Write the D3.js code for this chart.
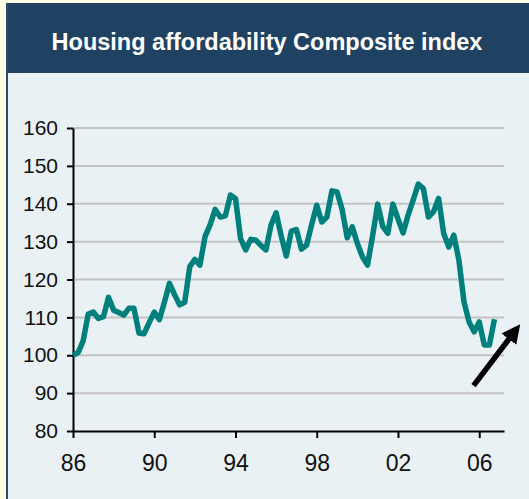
<!DOCTYPE html>
<html>
<head>
<meta charset="utf-8">
<script src="https://cdn.jsdelivr.net/npm/d3@7"></script>
<style>
  html, body { margin: 0; padding: 0; background: #FFFFE3; }
  svg { display: block; font-family: Arial, "Liberation Sans", sans-serif; }
</style>
</head>
<body>
<div id="chart"></div>
<script>
// quarterly index, 1986 Q1 .. 2006 Q4
var START_YEAR = 1986;
var aValues = [
  100.0, 100.7, 103.8, 110.9, 111.4, 109.7, 110.2, 115.3,
  111.9, 111.3, 110.6, 112.4, 112.4, 105.8, 105.7, 108.6,
  111.4, 109.4, 114.0, 119.0, 116.0, 113.3, 114.0, 123.4,
  125.3, 123.8, 131.3, 134.4, 138.5, 136.5, 136.8, 142.3,
  141.4, 130.8, 127.8, 130.6, 130.4, 129.0, 127.8, 134.4,
  137.6, 131.5, 126.2, 132.8, 133.2, 128.0, 129.1, 134.5,
  139.6, 135.2, 136.5, 143.4, 143.1, 138.5, 131.0, 133.9,
  129.5, 126.0, 123.8, 131.5, 139.9, 134.0, 132.2, 139.9,
  136.0, 132.3, 137.0, 141.0, 145.2, 144.0, 136.5, 137.9,
  141.4, 132.2, 128.6, 131.7, 125.1, 114.1, 108.8, 106.2,
  108.8, 102.7, 102.7, 109.5
];
var aXTicks = [1986, 1990, 1994, 1998, 2002, 2006];
var aXTickLabels = ["86", "90", "94", "98", "02", "06"];
var aYTicks = [80, 90, 100, 110, 120, 130, 140, 150, 160];
// arrow annotation, in data units
var aArrow = [{year: 2005.72, val: 92.0}, {year: 2007.85, val: 107.0}];

var TITLE = "Housing affordability Composite index";

var W = 529, H = 499;
var svg = d3.select("#chart").append("svg").attr("width", W).attr("height", H);

// panel
svg.append("rect").attr("x", 6).attr("y", 3).attr("width", W - 6).attr("height", H - 3)
  .attr("fill", "#E9F1F5");
svg.append("rect").attr("x", 6).attr("y", 3).attr("width", W - 6).attr("height", 70)
  .attr("fill", "#1F4262");
svg.append("rect").attr("x", 6).attr("y", 3).attr("width", 2).attr("height", H - 3)
  .attr("fill", "#2B4A68");

svg.append("text")
  .attr("x", 267).attr("y", 49.5)
  .attr("text-anchor", "middle")
  .attr("fill", "#fff")
  .attr("font-weight", "bold")
  .attr("font-size", "23.5px")
  .text(TITLE);

var x = d3.scaleLinear().domain([1986, 2007.22]).range([73, 504]);
var y = d3.scaleLinear().domain([80, 160]).range([431, 128]);

var aData = aValues.map(function(v, i) { return {year: START_YEAR + i / 4, val: v}; });

// gridlines
svg.append("g").selectAll("line")
  .data(aYTicks.filter(function(d) { return d > 80; }))
  .enter().append("line")
  .attr("x1", x(1986)).attr("x2", x.range()[1])
  .attr("y1", function(d) { return y(d); })
  .attr("y2", function(d) { return y(d); })
  .attr("stroke", "#C3C3C3")
  .attr("stroke-width", 2);

// axes
var yAxis = d3.axisLeft(y).tickValues(aYTicks).tickSize(6).tickSizeOuter(0).tickPadding(9);
var gy = svg.append("g").attr("transform", "translate(" + x(1986) + ",0)").call(yAxis);
gy.selectAll("text").attr("font-size", "21px").attr("fill", "#111").attr("font-family", null);
gy.selectAll("line").attr("stroke", "#000").attr("stroke-width", 2);
gy.select(".domain").attr("stroke", "#000").attr("stroke-width", 2);

var xAxis = d3.axisBottom(x).tickValues(aXTicks)
  .tickFormat(function(d, i) { return aXTickLabels[i]; })
  .tickSize(7).tickSizeOuter(0).tickPadding(17);
var gx = svg.append("g").attr("transform", "translate(0," + y(80) + ")").call(xAxis);
gx.selectAll("text").attr("font-size", "23px").attr("fill", "#111").attr("font-family", null);
gx.selectAll("line").attr("stroke", "#000").attr("stroke-width", 2);
gx.select(".domain").attr("stroke", "#000").attr("stroke-width", 2);
gy.raise();

// series
var line = d3.line()
  .x(function(d) { return x(d.year); })
  .y(function(d) { return y(d.val); });

svg.append("path")
  .datum(aData)
  .attr("d", line)
  .attr("fill", "none")
  .attr("stroke", "#00807C")
  .attr("stroke-width", 5.5)
  .attr("stroke-linejoin", "round");

// arrow
var defs = svg.append("defs");
defs.append("marker")
  .attr("id", "head")
  .attr("viewBox", "0 0 10 10")
  .attr("refX", 7).attr("refY", 5)
  .attr("markerWidth", 3.4).attr("markerHeight", 3.4)
  .attr("orient", "auto")
  .append("path").attr("d", "M0,0 L10,5 L0,10 Z").attr("fill", "#000");

svg.append("line")
  .attr("x1", x(aArrow[0].year)).attr("y1", y(aArrow[0].val))
  .attr("x2", x(aArrow[1].year)).attr("y2", y(aArrow[1].val))
  .attr("stroke", "#000")
  .attr("stroke-width", 5.5)
  .attr("marker-end", "url(#head)");
</script>
</body>
</html>
